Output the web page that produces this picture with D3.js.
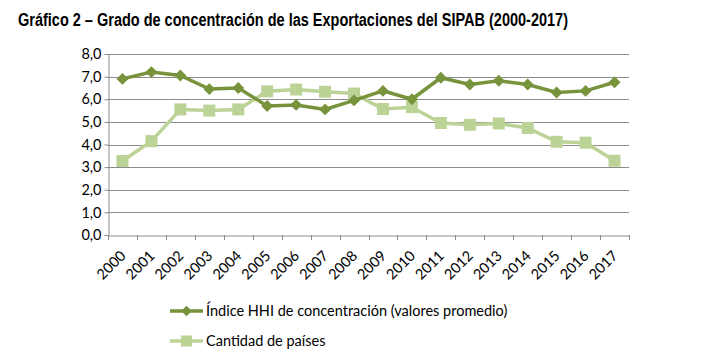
<!DOCTYPE html>
<html><head><meta charset="utf-8">
<script src="https://cdn.jsdelivr.net/npm/d3@7"></script>
<style>body{margin:0;background:#fff}</style>
</head><body>
<svg id="c" width="707" height="355"></svg>
<script>
const years = ["2000","2001","2002","2003","2004","2005","2006","2007","2008","2009","2010","2011","2012","2013","2014","2015","2016","2017"];
const hhi = [6.9,7.2,7.05,6.45,6.5,5.7,5.75,5.55,5.95,6.37,6.0,6.95,6.65,6.82,6.65,6.3,6.37,6.75];
const paises = [3.27,4.15,5.55,5.5,5.55,6.35,6.43,6.33,6.25,5.57,5.65,4.95,4.87,4.93,4.73,4.12,4.08,3.28];
const yTicks = [0,1,2,3,4,5,6,7,8];
const seriesNames = ["Índice HHI de concentración (valores promedio)","Cantidad de países"];
const colors = ["#77933C","#BCD397"];

const svg = d3.select("#c");
const L=108, R=629, T=54, B=235;
const x = d3.scaleBand().domain(years).range([L,R]);
const y = d3.scaleLinear().domain([0,8]).range([B,T]);
const font = "Lato, 'Open Sans', sans-serif";

svg.append("text").attr("x",18).attr("y",26)
  .attr("font-family","'Liberation Sans', Arial, sans-serif").attr("font-weight","bold")
  .attr("font-size",17.5).attr("textLength",550).attr("lengthAdjust","spacingAndGlyphs")
  .attr("fill","#000")
  .text("Gráfico 2 – Grado de concentración de las Exportaciones del SIPAB (2000-2017)");

// gridlines
svg.append("g").selectAll("line").data(yTicks.filter(d=>d>0)).join("line")
  .attr("x1",L).attr("x2",R).attr("y1",d=>Math.round(y(d))+0.5).attr("y2",d=>Math.round(y(d))+0.5)
  .attr("stroke","#8c8c8c").attr("stroke-width",1);

// y axis
const ya = svg.append("g").attr("transform",`translate(${L+0.5},0)`)
  .call(d3.axisLeft(y).tickValues(yTicks).tickSize(4).tickSizeOuter(0).tickFormat(d=>d3.format(".1f")(d).replace(".",",")));
ya.select(".domain").attr("stroke","#8c8c8c");
ya.selectAll(".tick line").attr("stroke","#8c8c8c");
ya.selectAll(".tick text").attr("font-family",font).attr("font-size",14.5).attr("fill","#000").attr("x",-7);

// x axis
const xa = svg.append("g").attr("transform",`translate(0,${Math.round(B)+0.5})`)
  .call(d3.axisBottom(x).tickSize(0).tickSizeOuter(0));
xa.select(".domain").attr("stroke","#8c8c8c");
xa.selectAll(".tick line").remove();
xa.selectAll(".tick text").attr("font-family",font).attr("font-size",14.5).attr("fill","#000")
  .attr("text-anchor","end").attr("transform","translate(-3,14) rotate(-45)").attr("dy","0.7em").attr("y",0);
const bounds = years.map(d=>x(d)).concat([R]);
svg.append("g").selectAll("line").data(bounds).join("line")
  .attr("x1",d=>Math.round(d)+0.5).attr("x2",d=>Math.round(d)+0.5)
  .attr("y1",B).attr("y2",B+5).attr("stroke","#8c8c8c");

const cx = d => x(d)+x.bandwidth()/2;
const line = d3.line().x((d,i)=>cx(years[i])).y(d=>y(d));

// paises series
svg.append("path").datum(paises).attr("d",line).attr("fill","none").attr("stroke",colors[1]).attr("stroke-width",3.5);
svg.append("g").selectAll("rect").data(paises).join("rect")
  .attr("x",(d,i)=>cx(years[i])-6).attr("y",d=>y(d)-6).attr("width",12).attr("height",12).attr("fill",colors[1]);

// hhi series
svg.append("path").datum(hhi).attr("d",line).attr("fill","none").attr("stroke",colors[0]).attr("stroke-width",3.5);
const diamond = d3.symbol().type(d3.symbolDiamond2).size(90);
svg.append("g").selectAll("path").data(hhi).join("path")
  .attr("d",diamond).attr("transform",(d,i)=>`translate(${cx(years[i])},${y(d)})`).attr("fill",colors[0]);

// legend
const lg = svg.append("g");
const sym = [d3.symbol().type(d3.symbolDiamond2).size(70), null];
seriesNames.forEach((n,i)=>{
  const yy = 311 + i*30;
  lg.append("line").attr("x1",170).attr("x2",203).attr("y1",yy).attr("y2",yy).attr("stroke",colors[i]).attr("stroke-width",3.5);
  if(i===0) lg.append("path").attr("d",sym[0]).attr("transform",`translate(186.5,${yy})`).attr("fill",colors[i]);
  else lg.append("rect").attr("x",181).attr("y",yy-5.5).attr("width",11).attr("height",11).attr("fill",colors[i]);
  lg.append("text").attr("x",206).attr("y",yy+5).attr("font-family",font).attr("font-size",14.5).attr("fill","#000").text(n);
});
</script>
</body></html>
